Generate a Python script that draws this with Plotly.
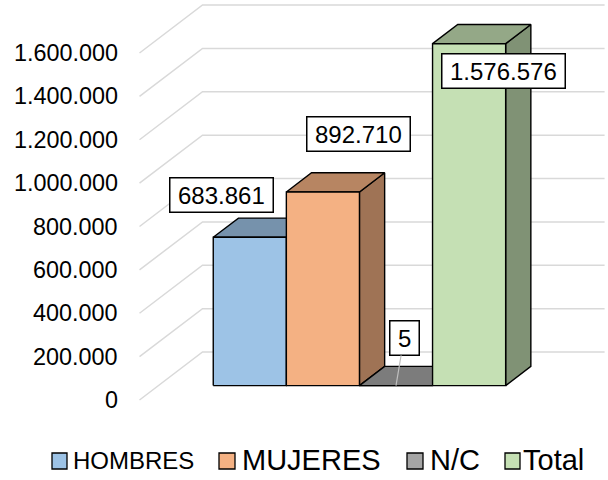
import plotly.graph_objects as go

# ---------------- data ----------------
categories = ["HOMBRES", "MUJERES", "N/C", "Total"]
values = [683861, 892710, 5, 1576576]
value_labels = ["683.861", "892.710", "5", "1.576.576"]
tick_values = [0, 200000, 400000, 600000, 800000, 1000000, 1200000, 1400000, 1600000]
tick_labels = ["0", "200.000", "400.000", "600.000", "800.000",
               "1.000.000", "1.200.000", "1.400.000", "1.600.000"]

# ---------------- styles ----------------
front_colors = ["#9DC3E6", "#F4B183", "#A5A5A5", "#C5E0B4"]
top_colors = ["#7692AC", "#B78562", "#7C7C7C", "#94A887"]
side_colors = ["#66798F", "#9F7355", "#6B6B6B", "#809275"]
FONT = "Liberation Sans, Arial, sans-serif"
GRID = "#D9D9D9"

# pseudo-3D projection parameters
DEPTH_X = 0.862       # horizontal shift (category units) for full depth
DEPTH_V = 221330      # vertical shift (value units) for full depth
D_FRONT, D_BACK = 0.3, 0.7
X_LEFT, X_RIGHT = -1.25, 4.25


def proj(x, v, d):
    return x + (d - D_FRONT) * DEPTH_X, v + (d - D_FRONT) * DEPTH_V


fig = go.Figure()

# ---- gridlines: back wall + left wall diagonals ----
gx, gy = [], []
for v in tick_values:
    for (x, d) in [(X_LEFT, 0), (X_LEFT, 1), (X_RIGHT, 1)]:
        px, py = proj(x, v, d)
        gx.append(px)
        gy.append(py)
    gx.append(None)
    gy.append(None)
fig.add_trace(go.Scatter(x=gx, y=gy, mode="lines", line=dict(color=GRID, width=1.5),
                         hoverinfo="skip", showlegend=False))


def face(points, color, name):
    xs = [p[0] for p in points] + [points[0][0]]
    ys = [p[1] for p in points] + [points[0][1]]
    fig.add_trace(go.Scatter(x=xs, y=ys, mode="lines", fill="toself", fillcolor=color,
                             line=dict(color="black", width=1.4), name=name,
                             hoverinfo="skip", showlegend=False))


# ---- 3D bars, painted left to right ----
for i, (cat, v) in enumerate(zip(categories, values)):
    x0, x1 = i - 0.5, i + 0.5
    side = [proj(x1, 0, D_FRONT), proj(x1, v, D_FRONT), proj(x1, v, D_BACK), proj(x1, 0, D_BACK)]
    top = [proj(x0, v, D_FRONT), proj(x1, v, D_FRONT), proj(x1, v, D_BACK), proj(x0, v, D_BACK)]
    front = [(x0, 0), (x1, 0), (x1, v), (x0, v)]
    face(side, side_colors[i], cat)
    face(top, top_colors[i], cat)
    face(front, front_colors[i], cat)

annotations = []

# ---- tick labels on the left wall ----
for v, t in zip(tick_values, tick_labels):
    px, py = proj(X_LEFT, v, 0)
    annotations.append(dict(x=px, y=py, text=t, showarrow=False, xanchor="right",
                            yanchor="middle", xshift=-20,
                            font=dict(family=FONT, size=23.4, color="black")))

# ---- data labels ----
label_shift = [(-28.5, 42.5), (35.5, 58), (8, -47.6), (34.5, -27.3)]
for i, (v, t) in enumerate(zip(values, value_labels)):
    w = sum(13.35 if ch.isdigit() else 6.67 for ch in t) + 15
    dx, dy = label_shift[i]
    common = dict(x=i, y=v, text=t, font=dict(family=FONT, size=24, color="black"),
                  bgcolor="white", bordercolor="black", borderwidth=1.5, borderpad=0,
                  width=w, height=33, align="center", valign="middle")
    if i == 2:
        annotations.append(dict(**common, showarrow=True, arrowhead=0, arrowwidth=1.2,
                                arrowcolor="#BFBFBF", ax=dx, ay=dy, standoff=0))
    else:
        annotations.append(dict(**common, showarrow=False, xshift=dx, yshift=dy))

# ---- legend (manual) ----
W, H = 608, 480
legend_sq = [(52, 67), (219, 235), (407, 423), (505, 520)]
legend_tx = [73, 242, 430, 523]
legend_fs = [24, 29, 29, 29]
shapes = []
for i, cat in enumerate(categories):
    a, b = legend_sq[i]
    shapes.append(dict(type="rect", xref="paper", yref="paper",
                       x0=a / W, x1=b / W, y0=1 - 469 / H, y1=1 - 453 / H,
                       fillcolor=front_colors[i], line=dict(color="black", width=1.3)))
    annotations.append(dict(xref="paper", yref="paper", x=legend_tx[i] / W, y=1 - 460 / H,
                            text=cat, showarrow=False, xanchor="left", yanchor="middle",
                            borderpad=0, borderwidth=0,
                            font=dict(family=FONT, size=legend_fs[i], color="black")))

x_px0 = 249.8
unit = 73.1
v_per_px = 4611
zero_py = 385.6
fig.update_layout(
    width=W, height=H, margin=dict(l=0, r=0, t=0, b=0),
    paper_bgcolor="white", plot_bgcolor="white",
    xaxis=dict(visible=False, range=[-x_px0 / unit, (W - x_px0) / unit], fixedrange=True),
    yaxis=dict(visible=False, range=[-(H - zero_py) * v_per_px, zero_py * v_per_px],
               fixedrange=True),
    showlegend=False,
    annotations=annotations,
    shapes=shapes,
)

fig.write_html("out.html", config={"displayModeBar": False},
               post_script="document.body.style.margin='0';document.body.style.overflow='hidden';")
